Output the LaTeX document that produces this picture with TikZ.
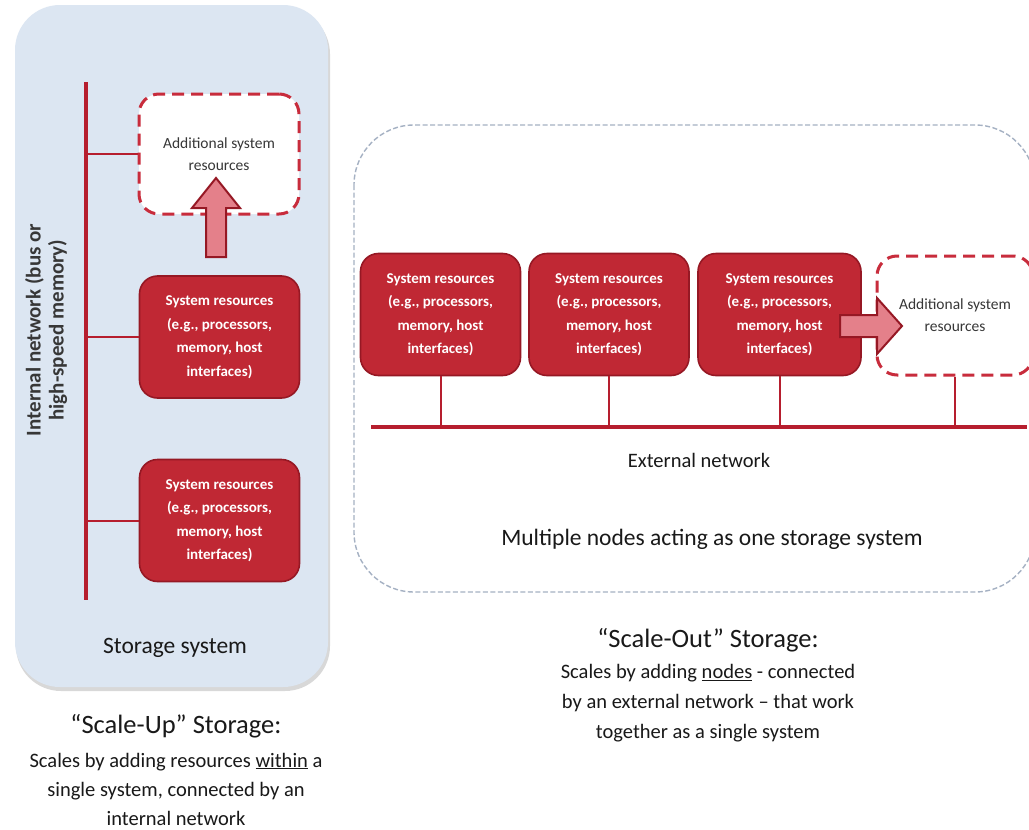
\documentclass[tikz,border=0pt]{standalone}
\usepackage{fontspec}
\setmainfont{Carlito}
\definecolor{panelblue}{RGB}{220,230,242}
\definecolor{redfill}{RGB}{192,40,52}
\definecolor{redborder}{RGB}{150,24,36}
\definecolor{redline}{RGB}{182,30,46}
\definecolor{reddash}{RGB}{200,44,60}
\definecolor{arrowfill}{RGB}{228,128,138}
\definecolor{outerdash}{RGB}{165,177,195}
\definecolor{txtdark}{RGB}{25,25,25}
\definecolor{txtgrey}{RGB}{55,55,55}
\tikzset{
  resbox/.style={draw=redborder, line width=1.6pt, fill=redfill, rounded corners=18pt,
    minimum width=160pt, minimum height=122pt, inner sep=0pt, align=center,
    text=white, font=\fontsize{15}{23.5}\selectfont\bfseries},
  addbox/.style={draw=reddash, line width=3pt, dash pattern=on 12pt off 7pt, fill=white,
    rounded corners=20pt, minimum width=160pt, minimum height=120pt, inner sep=0pt,
    align=center, text=txtgrey, font=\fontsize{15.5}{22}\selectfont},
  busline/.style={draw=redline, line width=4pt},
  conn/.style={draw=redline, line width=2pt},
  blockarrow/.style={draw=redborder, line width=2pt, fill=arrowfill, line join=miter},
  capnode/.style={inner sep=0pt, text=txtdark, align=center},
}
\begin{document}
\begin{tikzpicture}[x=1pt,y=-1pt]
\useasboundingbox (0,0) rectangle (1029,830);
\clip (0,0) rectangle (1029,830);
\fill[white] (0,0) rectangle (1029,830);

% ---------- left panel (scale-up) ----------
\fill[gray!55, opacity=.55, rounded corners=45pt] (16,9) rectangle (330,691);
\fill[panelblue, rounded corners=45pt] (15,5) rectangle (328,687);

\coordinate (bustop) at (86,82);
\coordinate (busbot) at (86,600);
\draw[busline] (bustop) -- (busbot);

\node[addbox] (addL) at (219,154) {Additional system\\resources};
\node[resbox] (r1) at (219.5,337) {System resources\\(e.g., processors,\\memory, host\\interfaces)};
\node[resbox] (r2) at (219.5,520.5) {System resources\\(e.g., processors,\\memory, host\\interfaces)};

\draw[conn] (addL.west -| bustop) -- (addL.west);
\draw[conn] (r1.west -| bustop) -- (r1.west);
\draw[conn] (r2.west -| bustop) -- (r2.west);

\draw[blockarrow] (206,257) -- (206,208) -- (192,208) -- (216,178) -- (240,208) -- (226,208) -- (226,257) -- cycle;

\node[capnode, rotate=90, text=txtgrey, font=\fontsize{21}{23}\selectfont\bfseries] (intnet) at (46,330)
  {Internal network (bus or\\high-speed memory)};

\node[capnode, font=\fontsize{23.5}{27}\selectfont] (storsys) at (175,648) {Storage system};
\node[capnode, font=\fontsize{26.5}{30}\selectfont] (sutitle) at (176,726) {“Scale-Up” Storage:};
\node[capnode, font=\fontsize{20.5}{29}\selectfont] (subody) at (176,789)
  {Scales by adding resources \underline{within} a\\single system, connected by an\\internal network};

% ---------- right panel (scale-out) ----------
\draw[outerdash, line width=1.4pt, dash pattern=on 5pt off 2.5pt, rounded corners=60pt]
  (354,125) rectangle (1035,592);

\node[resbox] (ra) at (440.5,314.5) {System resources\\(e.g., processors,\\memory, host\\interfaces)};
\node[resbox] (rb) at (609,314.5) {System resources\\(e.g., processors,\\memory, host\\interfaces)};
\node[resbox, minimum width=163pt] (rc) at (779.5,314.5) {System resources\\(e.g., processors,\\memory, host\\interfaces)};
\node[addbox, minimum width=156pt, minimum height=119pt] (addR) at (955,315.5) {Additional system\\resources};

\coordinate (busL) at (371,427);
\coordinate (busR) at (1027,427);
\draw[busline, line width=4.5pt] (busL) -- (busR);

\draw[conn] (ra.south) -- (ra.south |- busL);
\draw[conn] (rb.south) -- (rb.south |- busL);
\draw[conn] (rc.south) -- (rc.south |- busL);
\draw[conn] (addR.south) -- (addR.south |- busL);

\draw[blockarrow] (840,315) -- (877,315) -- (877,298) -- (902,326) -- (877,354) -- (877,337) -- (840,337) -- cycle;

\node[capnode, font=\fontsize{20.5}{24}\selectfont] (extnet) at (699,460) {External network};
\node[capnode, font=\fontsize{23.5}{27}\selectfont] (multi) at (712,539) {Multiple nodes acting as one storage system};
\node[capnode, font=\fontsize{26.5}{30}\selectfont] (sotitle) at (708,640) {“Scale-Out” Storage:};
\node[capnode, font=\fontsize{20.5}{30}\selectfont] (sobody) at (708,703)
  {Scales by adding \underline{nodes} - connected\\by an external network – that work\\together as a single system};
\end{tikzpicture}
\end{document}
